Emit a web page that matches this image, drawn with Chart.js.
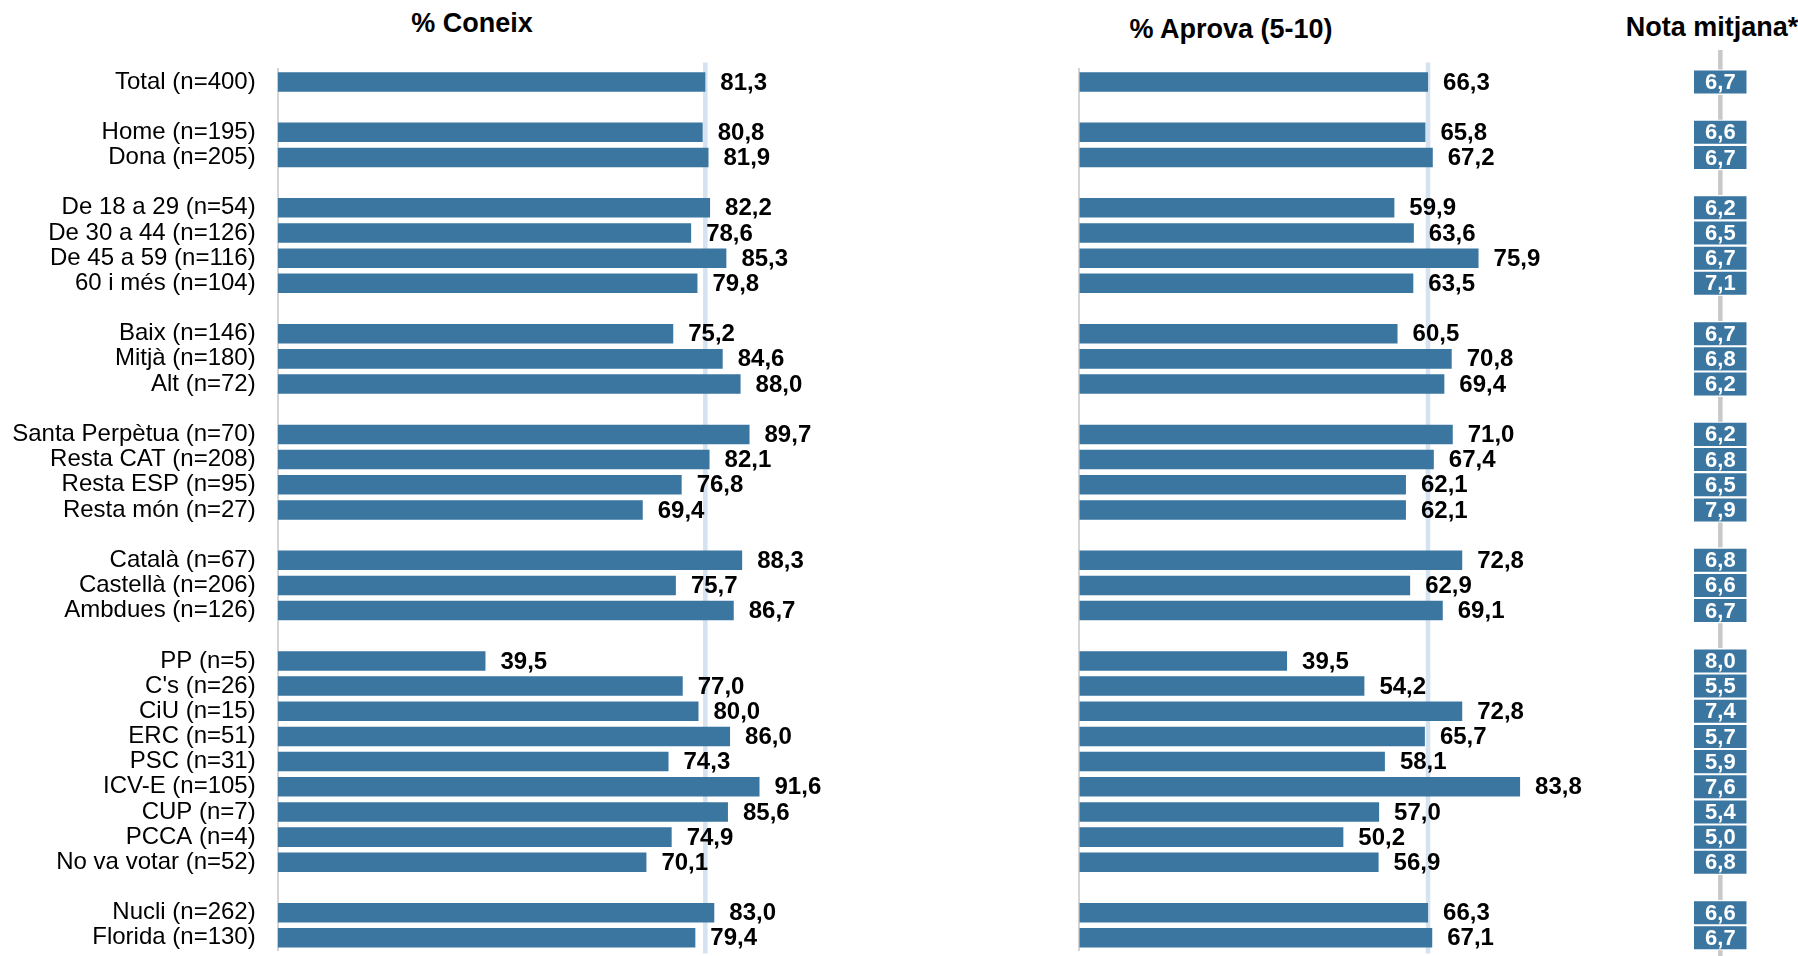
<!DOCTYPE html>
<html>
<head>
<meta charset="utf-8">
<script src="https://cdn.jsdelivr.net/npm/chart.js@4.4.0/dist/chart.umd.min.js"></script>
<style>
  body { margin: 0; background: #fff; width: 1798px; height: 956px; overflow: hidden; position: relative; font-family: "Liberation Sans", Arial, sans-serif; }
  .panel { position: absolute; top: 0; }
  .title { position: absolute; font-weight: bold; font-size: 27px; line-height: 30px; white-space: nowrap; transform: translateX(-50%); color: #000; }
</style>
</head>
<body>
<div class="title" style="left:472px;top:8px">% Coneix</div>
<div class="title" style="left:1231px;top:14px">% Aprova (5-10)</div>
<div class="title" style="left:1712px;top:12px">Nota mitjana*</div>
<div class="panel" style="left:0px"><canvas id="chartConeix" width="830" height="956"></canvas></div>
<div class="panel" style="left:1040px"><canvas id="chartAprova" width="600" height="956"></canvas></div>
<div class="panel" style="left:1680px"><canvas id="chartNota" width="80" height="956"></canvas></div>
<script>
// empty strings / null = blank separator rows
let categories = [
  "Total (n=400)", "",
  "Home (n=195)", "Dona (n=205)", "",
  "De 18 a 29 (n=54)", "De 30 a 44 (n=126)", "De 45 a 59 (n=116)", "60 i més (n=104)", "",
  "Baix (n=146)", "Mitjà (n=180)", "Alt (n=72)", "",
  "Santa Perpètua (n=70)", "Resta CAT (n=208)", "Resta ESP (n=95)", "Resta món (n=27)", "",
  "Català (n=67)", "Castellà (n=206)", "Ambdues (n=126)", "",
  "PP (n=5)", "C's (n=26)", "CiU (n=15)", "ERC (n=51)", "PSC (n=31)", "ICV-E (n=105)", "CUP (n=7)", "PCCA (n=4)", "No va votar (n=52)", "",
  "Nucli (n=262)", "Florida (n=130)",
];
let coneix = [
  81.3, null,
  80.8, 81.9, null,
  82.2, 78.6, 85.3, 79.8, null,
  75.2, 84.6, 88.0, null,
  89.7, 82.1, 76.8, 69.4, null,
  88.3, 75.7, 86.7, null,
  39.5, 77.0, 80.0, 86.0, 74.3, 91.6, 85.6, 74.9, 70.1, null,
  83.0, 79.4,
];
let aprova = [
  66.3, null,
  65.8, 67.2, null,
  59.9, 63.6, 75.9, 63.5, null,
  60.5, 70.8, 69.4, null,
  71.0, 67.4, 62.1, 62.1, null,
  72.8, 62.9, 69.1, null,
  39.5, 54.2, 72.8, 65.7, 58.1, 83.8, 57.0, 50.2, 56.9, null,
  66.3, 67.1,
];
let nota = [
  6.7, null,
  6.6, 6.7, null,
  6.2, 6.5, 6.7, 7.1, null,
  6.7, 6.8, 6.2, null,
  6.2, 6.8, 6.5, 7.9, null,
  6.8, 6.6, 6.7, null,
  8.0, 5.5, 7.4, 5.7, 5.9, 7.6, 5.4, 5.0, 6.8, null,
  6.6, 6.7,
];

let blue = "#3b76a1";
let fontFamily = "'Liberation Sans', Arial, sans-serif";

function fmt(v) {
  return v.toFixed(1).replace(".", ",");
}

// vertical line across the plot (total reference / nota spine)
let refLine = {
  id: "refLine",
  beforeDatasetsDraw(chart, args, opts) {
    let ctx = chart.ctx;
    let area = chart.chartArea;
    let x = chart.scales.x.getPixelForValue(opts.value);
    ctx.save();
    ctx.strokeStyle = opts.color;
    ctx.lineWidth = opts.width;
    ctx.beginPath();
    ctx.moveTo(x, area.top - opts.above);
    ctx.lineTo(x, area.bottom + opts.below);
    ctx.stroke();
    ctx.restore();
  },
};

let valueLabels = {
  id: "valueLabels",
  afterDatasetsDraw(chart, args, opts) {
    let ctx = chart.ctx;
    let meta = chart.getDatasetMeta(0);
    ctx.save();
    ctx.font = opts.font;
    ctx.fillStyle = opts.color;
    ctx.textBaseline = "middle";
    ctx.textAlign = opts.align;
    meta.data.forEach(function (bar, i) {
      let v = opts.values[i];
      if (v == null) return;
      let x = opts.inside ? (bar.x + bar.base) / 2 : bar.x + opts.offset;
      ctx.fillText(fmt(v), x, bar.y + 1);
    });
    ctx.restore();
  },
};

function fixedWidth(w) {
  return function (s) {
    s.width = w;
    s.paddingTop = 0;
    s.paddingBottom = 0;
  };
}

function panelOptions(values, total, yScale, padRight) {
  return {
    indexAxis: "y",
    responsive: false,
    animation: false,
    layout: { padding: { top: 69.4, bottom: 5.6, left: 0, right: padRight } },
    scales: {
      x: { display: false, min: 0, max: 100 },
      y: yScale,
    },
    plugins: {
      legend: { display: false },
      tooltip: { enabled: false },
      refLine: { value: total, color: "#d5e3f0", width: 4.5, above: 7, below: 3 },
      valueLabels: { values: values, font: "bold 24px " + fontFamily, color: "#000", align: "left", offset: 15 },
    },
  };
}

new Chart(document.getElementById("chartConeix"), {
  type: "bar",
  data: {
    labels: categories,
    datasets: [{ data: coneix, backgroundColor: blue, barPercentage: 0.775, categoryPercentage: 1 }],
  },
  options: panelOptions(coneix, coneix[0], {
    afterFit: fixedWidth(277.7),
    grid: { drawOnChartArea: false, drawTicks: false },
    border: { color: "#d4d4d4", width: 2 },
    ticks: { autoSkip: false, padding: 22, color: "#000", font: { family: fontFamily, size: 24 } },
  }, 26.3),
  plugins: [refLine, valueLabels],
});

new Chart(document.getElementById("chartAprova"), {
  type: "bar",
  data: {
    labels: categories,
    datasets: [{ data: aprova, backgroundColor: blue, barPercentage: 0.775, categoryPercentage: 1 }],
  },
  options: panelOptions(aprova, aprova[0], {
    afterFit: fixedWidth(39.3),
    grid: { drawOnChartArea: false, drawTicks: false },
    border: { color: "#d4d4d4", width: 2 },
    ticks: { display: false, autoSkip: false },
  }, 34.7),
  plugins: [refLine, valueLabels],
});

// nota boxes: fixed-size cells, value written inside
let notaBoxes = nota.map(function (v) { return v == null ? null : [0, 1]; });

new Chart(document.getElementById("chartNota"), {
  type: "bar",
  data: {
    labels: categories,
    datasets: [{
      data: notaBoxes,
      backgroundColor: blue,
      borderColor: "#fff",
      borderWidth: { top: 1.4, bottom: 1.4, left: 0, right: 0 },
      borderSkipped: false,
      barPercentage: 1,
      categoryPercentage: 1,
    }],
  },
  options: {
    indexAxis: "y",
    responsive: false,
    animation: false,
    layout: { padding: { top: 69.4, bottom: 5.6, left: 14, right: 13.3 } },
    scales: {
      x: { display: false, min: 0, max: 1 },
      y: { display: false },
    },
    plugins: {
      legend: { display: false },
      tooltip: { enabled: false },
      refLine: { value: 0.5, color: "#c8c8c8", width: 4.5, above: 19.4, below: 10 },
      valueLabels: { values: nota, font: "bold 22px " + fontFamily, color: "#fff", align: "center", inside: true },
    },
  },
  plugins: [refLine, valueLabels],
});
</script>
</body>
</html>
